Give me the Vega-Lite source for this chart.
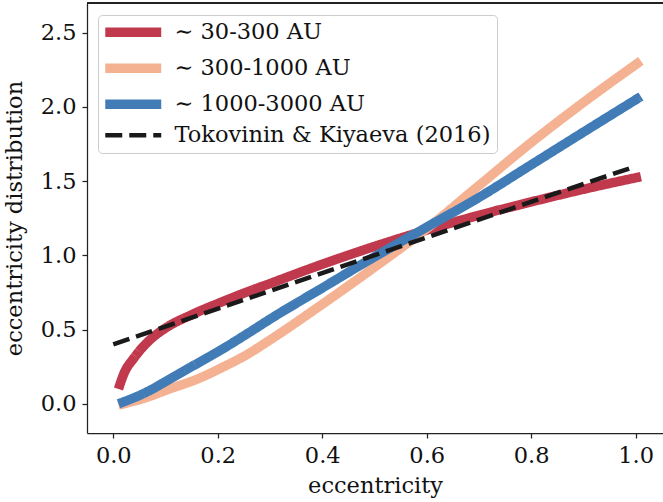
{
  "$schema": "https://vega.github.io/schema/vega-lite/v6.json",
  "width": 576,
  "height": 430,
  "autosize": {"type": "none"},
  "padding": {"left": 87, "top": 3, "right": 0, "bottom": 69},
  "background": "white",
  "config": {
    "view": {"stroke": null},
    "font": "DejaVu Serif",
    "axis": {
      "grid": false,
      "domainColor": "#222222",
      "domainWidth": 1.25,
      "tickColor": "#222222",
      "tickWidth": 1.25,
      "tickSize": 5,
      "labelFont": "DejaVu Serif, serif",
      "labelFontSize": 22.5,
      "labelColor": "#111111",
      "labelPadding": 6,
      "titleFont": "DejaVu Serif, serif",
      "titleFontSize": 22.5,
      "titleFontWeight": "normal",
      "titleColor": "#111111"
    },
    "legend": {"labelFont": "DejaVu Serif, serif"}
  },
  "data": {
    "values": [
      {"series": "∼ 30-300 AU", "e": 0.01, "f": 0.10},
      {"series": "∼ 30-300 AU", "e": 0.02, "f": 0.20},
      {"series": "∼ 30-300 AU", "e": 0.04, "f": 0.31},
      {"series": "∼ 30-300 AU", "e": 0.07, "f": 0.43},
      {"series": "∼ 30-300 AU", "e": 0.10, "f": 0.51},
      {"series": "∼ 30-300 AU", "e": 0.15, "f": 0.60},
      {"series": "∼ 30-300 AU", "e": 0.20, "f": 0.675},
      {"series": "∼ 30-300 AU", "e": 0.25, "f": 0.745},
      {"series": "∼ 30-300 AU", "e": 0.30, "f": 0.81},
      {"series": "∼ 30-300 AU", "e": 0.40, "f": 0.94},
      {"series": "∼ 30-300 AU", "e": 0.50, "f": 1.06},
      {"series": "∼ 30-300 AU", "e": 0.60, "f": 1.17},
      {"series": "∼ 30-300 AU", "e": 0.70, "f": 1.27},
      {"series": "∼ 30-300 AU", "e": 0.80, "f": 1.36},
      {"series": "∼ 30-300 AU", "e": 0.90, "f": 1.445},
      {"series": "∼ 30-300 AU", "e": 1.01, "f": 1.53},
      {"series": "∼ 300-1000 AU", "e": 0.01, "f": -0.01},
      {"series": "∼ 300-1000 AU", "e": 0.07, "f": 0.05},
      {"series": "∼ 300-1000 AU", "e": 0.10, "f": 0.09},
      {"series": "∼ 300-1000 AU", "e": 0.17, "f": 0.18},
      {"series": "∼ 300-1000 AU", "e": 0.20, "f": 0.23},
      {"series": "∼ 300-1000 AU", "e": 0.26, "f": 0.34},
      {"series": "∼ 300-1000 AU", "e": 0.30, "f": 0.43},
      {"series": "∼ 300-1000 AU", "e": 0.40, "f": 0.67},
      {"series": "∼ 300-1000 AU", "e": 0.50, "f": 0.92},
      {"series": "∼ 300-1000 AU", "e": 0.60, "f": 1.18},
      {"series": "∼ 300-1000 AU", "e": 0.70, "f": 1.47},
      {"series": "∼ 300-1000 AU", "e": 0.80, "f": 1.76},
      {"series": "∼ 300-1000 AU", "e": 0.90, "f": 2.03},
      {"series": "∼ 300-1000 AU", "e": 1.01, "f": 2.31},
      {"series": "∼ 1000-3000 AU", "e": 0.01, "f": 0.00},
      {"series": "∼ 1000-3000 AU", "e": 0.07, "f": 0.09},
      {"series": "∼ 1000-3000 AU", "e": 0.10, "f": 0.15},
      {"series": "∼ 1000-3000 AU", "e": 0.17, "f": 0.29},
      {"series": "∼ 1000-3000 AU", "e": 0.20, "f": 0.35},
      {"series": "∼ 1000-3000 AU", "e": 0.26, "f": 0.48},
      {"series": "∼ 1000-3000 AU", "e": 0.30, "f": 0.57},
      {"series": "∼ 1000-3000 AU", "e": 0.40, "f": 0.78},
      {"series": "∼ 1000-3000 AU", "e": 0.50, "f": 0.99},
      {"series": "∼ 1000-3000 AU", "e": 0.60, "f": 1.19},
      {"series": "∼ 1000-3000 AU", "e": 0.70, "f": 1.39},
      {"series": "∼ 1000-3000 AU", "e": 0.80, "f": 1.61},
      {"series": "∼ 1000-3000 AU", "e": 0.90, "f": 1.83},
      {"series": "∼ 1000-3000 AU", "e": 1.01, "f": 2.07},
      {"series": "Tokovinin & Kiyaeva (2016)", "e": 0.0, "f": 0.4},
      {"series": "Tokovinin & Kiyaeva (2016)", "e": 1.0, "f": 1.6}
    ]
  },
  "layer": [
    {
      "mark": {"type": "rule", "color": "#222222", "strokeWidth": 1.25},
      "encoding": {"y": {"datum": 2.7}}
    },
    {
      "mark": {"type": "line", "strokeCap": "butt", "strokeJoin": "round", "interpolate": "monotone"},
      "encoding": {
        "x": {
          "field": "e",
          "type": "quantitative",
          "title": "eccentricity",
          "scale": {"domain": [-0.0503, 1.0523], "nice": false, "zero": false},
          "axis": {"values": [0, 0.2, 0.4, 0.6, 0.8, 1.0], "format": ".1f", "titlePadding": 8}
        },
        "y": {
          "field": "f",
          "type": "quantitative",
          "title": "eccentricity distribution",
          "scale": {"domain": [-0.197, 2.7], "nice": false, "zero": false},
          "axis": {"values": [0, 0.5, 1.0, 1.5, 2.0, 2.5], "format": ".1f", "titlePadding": 14}
        },
        "color": {
          "field": "series",
          "type": "nominal",
          "title": null,
          "scale": {
            "domain": ["∼ 30-300 AU", "∼ 300-1000 AU", "∼ 1000-3000 AU", "Tokovinin & Kiyaeva (2016)"],
            "range": ["#c0394c", "#f5b293", "#427cb7", "#1a1a1a"]
          },
          "legend": {
            "orient": "none",
            "legendX": 11,
            "legendY": 12,
            "symbolType": "M-6,0H6",
            "symbolSize": 87,
            "symbolOffset": 18,
            "labelFontSize": 22.5,
            "labelColor": "#111111",
            "labelOffset": 30,
            "labelLimit": 400,
            "rowPadding": -3,
            "padding": 6,
            "strokeColor": "#cccccc",
            "fillColor": "white",
            "cornerRadius": 4
          }
        },
        "strokeDash": {
          "field": "series",
          "type": "nominal",
          "scale": {
            "domain": ["∼ 30-300 AU", "∼ 300-1000 AU", "∼ 1000-3000 AU", "Tokovinin & Kiyaeva (2016)"],
            "range": [[1, 0], [1, 0], [1, 0], [17, 7]]
          },
          "legend": null
        },
        "strokeWidth": {
          "field": "series",
          "type": "nominal",
          "scale": {
            "type": "ordinal",
            "domain": ["∼ 30-300 AU", "∼ 300-1000 AU", "∼ 1000-3000 AU", "Tokovinin & Kiyaeva (2016)"],
            "range": [9.5, 9.5, 9.5, 4.5]
          },
          "legend": null
        }
      }
    }
  ]
}
